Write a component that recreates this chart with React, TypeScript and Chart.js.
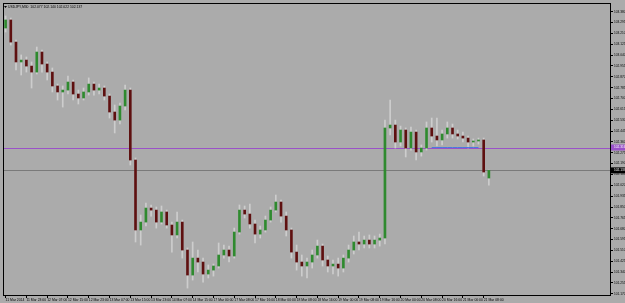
import { useEffect, useRef } from 'react';
import { Chart, registerables } from 'chart.js';

Chart.register(...registerables);

// ---- data (USDJPY, one candle per 2 hours) ----
const opens = [
  103.252, 103.315, 103.142, 102.986, 103.001, 102.954, 102.907, 103.064, 102.970, 102.907,
  102.798, 102.751, 102.766, 102.829, 102.735, 102.704, 102.751, 102.813, 102.766, 102.782,
  102.719, 102.594, 102.531, 102.641, 102.766, 102.218, 101.670, 101.732, 101.842, 101.826,
  101.732, 101.811, 101.709, 101.631, 101.732, 101.513, 101.317, 101.450, 101.419, 101.325,
  101.356, 101.388, 101.474, 101.513, 101.466, 101.654, 101.826, 101.795, 101.717, 101.638,
  101.670, 101.748, 101.826, 101.889, 101.779, 101.670, 101.497, 101.419, 101.388, 101.419,
  101.474, 101.544, 101.435, 101.388, 101.403, 101.372, 101.450, 101.513, 101.576, 101.560,
  101.591, 101.560, 101.591, 101.607, 102.469, 102.492, 102.359, 102.453, 102.312, 102.437,
  102.281, 102.312, 102.469, 102.406, 102.375, 102.422, 102.469, 102.422, 102.406, 102.390,
  102.359, 102.367, 102.375, 102.077,
];
const highs = [
  103.346, 103.330, 103.158, 103.041, 103.025, 102.986, 103.103, 103.080, 102.986, 102.939,
  102.813, 102.798, 102.876, 102.845, 102.766, 102.782, 102.861, 102.829, 102.813, 102.798,
  102.735, 102.649, 102.665, 102.806, 102.782, 102.234, 101.787, 101.881, 101.866, 101.850,
  101.858, 101.826, 101.732, 101.811, 101.748, 101.529, 101.576, 101.513, 101.450, 101.396,
  101.403, 101.568, 101.552, 101.544, 101.685, 101.866, 101.858, 101.873, 101.748, 101.701,
  101.779, 101.850, 101.944, 101.905, 101.811, 101.685, 101.552, 101.474, 101.450, 101.513,
  101.591, 101.560, 101.466, 101.435, 101.450, 101.474, 101.552, 101.623, 101.654, 101.623,
  101.631, 101.623, 101.638, 102.531, 102.688, 102.531, 102.484, 102.469, 102.477, 102.453,
  102.336, 102.516, 102.547, 102.547, 102.453, 102.516, 102.500, 102.453, 102.437, 102.406,
  102.383, 102.390, 102.390, 102.140,
];
const lows = [
  103.221, 103.119, 102.923, 102.884, 102.907, 102.782, 102.892, 102.907, 102.845, 102.751,
  102.688, 102.633, 102.735, 102.688, 102.657, 102.688, 102.727, 102.727, 102.735, 102.688,
  102.547, 102.430, 102.500, 102.610, 102.179, 101.576, 101.552, 101.701, 101.779, 101.685,
  101.717, 101.685, 101.497, 101.607, 101.450, 101.215, 101.278, 101.341, 101.262, 101.294,
  101.309, 101.372, 101.450, 101.419, 101.450, 101.638, 101.764, 101.685, 101.568, 101.607,
  101.654, 101.732, 101.811, 101.732, 101.623, 101.450, 101.356, 101.309, 101.294, 101.372,
  101.450, 101.388, 101.341, 101.325, 101.309, 101.341, 101.419, 101.482, 101.513, 101.529,
  101.529, 101.529, 101.544, 101.560, 102.414, 102.312, 102.328, 102.242, 102.296, 102.218,
  102.249, 102.296, 102.359, 102.328, 102.336, 102.390, 102.390, 102.383, 102.359, 102.312,
  102.328, 102.343, 102.093, 102.022,
];
const closes = [
  103.315, 103.142, 102.986, 103.001, 102.954, 102.907, 103.064, 102.970, 102.907, 102.798,
  102.751, 102.766, 102.829, 102.735, 102.704, 102.751, 102.813, 102.766, 102.782, 102.719,
  102.594, 102.531, 102.641, 102.766, 102.218, 101.670, 101.732, 101.842, 101.826, 101.732,
  101.811, 101.709, 101.631, 101.732, 101.513, 101.317, 101.450, 101.419, 101.325, 101.356,
  101.388, 101.474, 101.513, 101.466, 101.654, 101.826, 101.795, 101.717, 101.638, 101.670,
  101.748, 101.826, 101.889, 101.779, 101.670, 101.497, 101.419, 101.388, 101.419, 101.474,
  101.544, 101.435, 101.388, 101.403, 101.372, 101.450, 101.513, 101.576, 101.560, 101.591,
  101.560, 101.591, 101.607, 102.469, 102.492, 102.359, 102.453, 102.312, 102.437, 102.281,
  102.312, 102.469, 102.406, 102.375, 102.422, 102.469, 102.422, 102.406, 102.390, 102.359,
  102.367, 102.375, 102.124, 102.137,
];

const tickLabels = [
  '11 Mar 2014', '11 Mar 23:00', '12 Mar 07:00', '12 Mar 15:00', '12 Mar 23:00', '13 Mar 07:00',
  '13 Mar 15:00', '13 Mar 23:00', '14 Mar 07:00', '14 Mar 15:00', '17 Mar 00:00', '17 Mar 08:00',
  '17 Mar 16:00', '18 Mar 00:00', '18 Mar 08:00', '18 Mar 16:00', '19 Mar 00:00', '19 Mar 08:00',
  '19 Mar 16:00', '20 Mar 00:00', '20 Mar 08:00', '20 Mar 16:00', '21 Mar 00:00', '21 Mar 08:00',
];
const priceTicks = [
  103.380, 103.295, 103.210, 103.125, 103.040, 102.955, 102.870, 102.785, 102.700, 102.615,
  102.530, 102.445, 102.360, 102.275, 102.190, 102.105, 102.020, 101.935, 101.850, 101.765,
  101.680, 101.595, 101.510, 101.425, 101.340, 101.255, 101.170,
];
const SYMBOL = 'USDJPY,M30';
const Y_MIN = 101.153;
const Y_MAX = 103.448;
const TOTAL_SLOTS = 117;
const LABEL_EVERY = 4;
const levelPrice = 102.316;
const blueFrom = 82;
const blueTo = 91;

// ---- styles ----
const BG = '#ababab';
const BULL = '#2f8a2f';
const BEAR = '#5e1010';
const WICK = '#cdcdcd';
const PURPLE = '#9a52c8';
const CUR_LINE = '#7a7a7a';
const BLUE = '#4a78e0';
const FONT = 'Liberation Sans';

const xLabels = Array.from({ length: TOTAL_SLOTS }, (_, i) =>
  i % LABEL_EVERY === 0 && tickLabels[i / LABEL_EVERY] ? tickLabels[i / LABEL_EVERY] : ''
);

export default function App() {
  const ref = useRef<HTMLCanvasElement>(null);

  useEffect(() => {
    const lastClose = closes[closes.length - 1];
    const n = opens.length;
    const overlay = {
      id: 'overlay',
      beforeDatasetsDraw(chart: any) {
        const { ctx, chartArea: a, scales } = chart;
        ctx.save();
        const drawLevel = (v: number, color: string) => {
          const py = Math.round(scales.y.getPixelForValue(v)) + 0.5;
          ctx.strokeStyle = color;
          ctx.lineWidth = 1;
          ctx.beginPath();
          ctx.moveTo(a.left, py);
          ctx.lineTo(a.right, py);
          ctx.stroke();
        };
        drawLevel(levelPrice, PURPLE);
        drawLevel(lastClose, CUR_LINE);
        ctx.restore();
      },
      afterDraw(chart: any) {
        const { ctx, chartArea: a, scales } = chart;
        ctx.save();
        // frame
        ctx.strokeStyle = '#000';
        ctx.lineWidth = 1;
        ctx.strokeRect(Math.round(a.left) + 0.5, Math.round(a.top) + 0.5,
          Math.round(a.right - a.left) - 1, Math.round(a.bottom - a.top) - 1);
        // price boxes on right axis
        const box = (v: number, bg: string) => {
          const py = scales.y.getPixelForValue(v);
          ctx.fillStyle = bg;
          ctx.fillRect(a.right, py - 3, 625 - a.right, 6);
          ctx.fillStyle = '#fff';
          ctx.font = `3.2px "${FONT}"`;
          ctx.textBaseline = 'middle';
          ctx.textAlign = 'left';
          ctx.fillText(v.toFixed(3), a.right + 3, py);
        };
        box(levelPrice, PURPLE);
        box(lastClose, '#000');
        // title
        ctx.fillStyle = '#000';
        ctx.beginPath();
        ctx.moveTo(a.left + 1, a.top + 3);
        ctx.lineTo(a.left + 4, a.top + 3);
        ctx.lineTo(a.left + 2.5, a.top + 5);
        ctx.closePath();
        ctx.fill();
        ctx.font = `3.4px "${FONT}"`;
        ctx.textBaseline = 'middle';
        ctx.textAlign = 'left';
        const t = `${SYMBOL}  ${opens[n - 1].toFixed(3)} ${highs[n - 1].toFixed(3)} ${lows[n - 1].toFixed(3)} ${lastClose.toFixed(3)}`;
        ctx.fillText(t, a.left + 5, a.top + 4);
        ctx.restore();
      },
    };

    const chart = new Chart(ref.current!, {
      type: 'bar',
      data: {
        labels: xLabels,
        datasets: [
          {
            type: 'bar',
            label: 'wick',
            data: lows.map((l, i) => [l, highs[i]]) as any,
            backgroundColor: WICK,
            barThickness: 1,
            grouped: false,
            order: 3,
          } as any,
          {
            type: 'bar',
            label: 'body',
            data: opens.map((o, i) => [o, closes[i]]) as any,
            backgroundColor: opens.map((o, i) => (closes[i] >= o ? BULL : BEAR)),
            barThickness: 2,
            grouped: false,
            order: 2,
          } as any,
          {
            type: 'line',
            label: 'level',
            data: opens.map((_, i) => (i >= blueFrom && i <= blueTo ? levelPrice : null)),
            borderColor: BLUE,
            borderWidth: 1,
            pointRadius: 0,
            spanGaps: false,
            order: 1,
          } as any,
        ],
      },
      options: {
        animation: false,
        responsive: false,
        devicePixelRatio: 1,
        layout: { padding: { left: 3, top: 3, right: 0, bottom: 0 } },
        plugins: {
          legend: { display: false },
          tooltip: { enabled: false },
          title: { display: false },
        },
        scales: {
          x: {
            type: 'category',
            offset: true,
            grid: {
              offset: false,
              drawOnChartArea: false,
              drawTicks: true,
              tickLength: 2,
              color: (c: any) => (xLabels[c.index] ? '#000' : 'rgba(0,0,0,0)'),
            },
            border: { display: false },
            ticks: {
              autoSkip: false,
              maxRotation: 0,
              minRotation: 0,
              align: 'start',
              padding: 0,
              color: '#000',
              font: { size: 3.4, family: FONT },
            },
            afterFit: (s: any) => { s.height = 7; },
          } as any,
          y: {
            type: 'linear',
            position: 'right',
            min: Y_MIN,
            max: Y_MAX,
            afterBuildTicks: (s: any) => { s.ticks = priceTicks.map((v) => ({ value: v })); },
            grid: { drawOnChartArea: false, drawTicks: true, tickLength: 2, color: '#000' },
            border: { display: false },
            ticks: {
              padding: 1,
              color: '#000',
              font: { size: 3.2, family: FONT },
              callback: (v: any) => Number(v).toFixed(3),
            },
            afterFit: (s: any) => { s.width = 14; },
          } as any,
        },
      },
      plugins: [overlay],
    });
    return () => chart.destroy();
  }, []);

  return (
    <canvas
      ref={ref}
      width={625}
      height={303}
      style={{ position: 'fixed', left: 0, top: 0, width: 625, height: 303, background: BG }}
    />
  );
}
